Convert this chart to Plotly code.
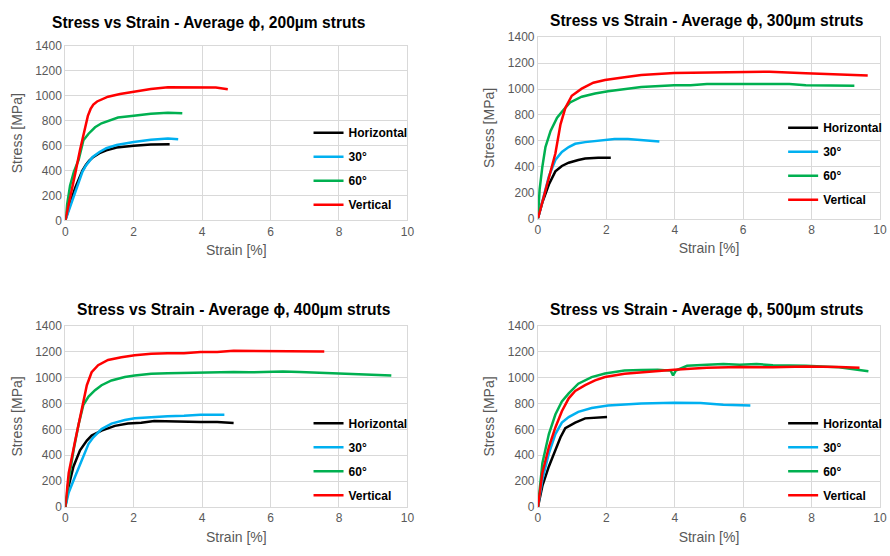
import plotly.graph_objects as go

# ---------------- data ----------------
series_names = ["Horizontal", "30°", "60°", "Vertical"]
series_colors = ["#000000", "#00B0F0", "#00B050", "#FF0000"]
panel_titles = [
    "Stress vs Strain - Average ϕ, 200µm struts",
    "Stress vs Strain - Average ϕ, 300µm struts",
    "Stress vs Strain - Average ϕ, 400µm struts",
    "Stress vs Strain - Average ϕ, 500µm struts",
]
x_ticks = [0, 2, 4, 6, 8, 10]
y_ticks = [0, 200, 400, 600, 800, 1000, 1200, 1400]

# 200 µm
s200_h_x = [0, 0.1, 0.2, 0.3, 0.4, 0.5, 0.6, 0.7, 0.8, 1.0, 1.2, 1.5, 2.0, 2.5, 3.05]
s200_h_y = [0, 100, 190, 270, 340, 400, 445, 480, 505, 540, 563, 585, 600, 610, 612]
s200_30_x = [0, 0.1, 0.2, 0.3, 0.4, 0.5, 0.6, 0.7, 0.8, 1.0, 1.2, 1.5, 2.0, 2.5, 3.0, 3.3]
s200_30_y = [0, 80, 160, 240, 320, 390, 440, 480, 510, 550, 580, 605, 630, 648, 658, 652]
s200_60_x = [0, 0.05, 0.14, 0.25, 0.39, 0.53, 0.68, 0.87, 1.06, 1.3, 1.54, 2.0, 2.5, 3.0, 3.42]
s200_60_y = [0, 122, 280, 390, 487, 644, 696, 748, 780, 806, 826, 840, 857, 865, 860]
s200_v_x = [0, 0.1, 0.2, 0.3, 0.43, 0.55, 0.66, 0.74, 0.82, 0.93, 1.06, 1.25, 1.6, 2.0, 2.5, 3.0, 3.95, 4.4, 4.75]
s200_v_y = [0, 125, 260, 390, 566, 720, 839, 895, 930, 955, 972, 993, 1015, 1035, 1055, 1069, 1071, 1066, 1053]

# 300 µm
s300_h_x = [0, 0.13, 0.32, 0.51, 0.7, 0.9, 1.18, 1.38, 1.76, 2.13]
s300_h_y = [0, 125, 263, 364, 406, 431, 452, 464, 469, 469]
s300_30_x = [0, 0.13, 0.32, 0.51, 0.7, 0.9, 1.09, 1.38, 1.86, 2.24, 2.63, 3.02, 3.55]
s300_30_y = [0, 125, 326, 452, 514, 552, 577, 590, 607, 615, 615, 607, 595]
s300_60_x = [0, 0.05, 0.13, 0.22, 0.37, 0.56, 0.75, 0.94, 1.28, 1.67, 2.05, 2.53, 3.02, 3.98,
             4.46, 4.94, 5.42, 5.9, 6.87, 7.35, 7.83, 8.8, 9.25]
s300_60_y = [0, 226, 401, 552, 677, 778, 840, 896, 941, 966, 983, 998, 1016, 1029,
             1029, 1039, 1039, 1034, 1039, 1039, 1029, 1029, 1026]
s300_v_x = [0, 0.22, 0.51, 0.66, 0.8, 0.99, 1.28, 1.62, 1.96, 2.53, 3.02, 3.98, 4.94, 5.9,
            6.77, 7.83, 8.8, 9.18, 9.64]
s300_v_y = [0, 226, 502, 727, 853, 948, 1003, 1049, 1069, 1091, 1109, 1124, 1129, 1129,
            1134, 1121, 1111, 1104, 1104]

# 400 µm
s400_h_x = [0, 0.1, 0.24, 0.43, 0.63, 0.77, 1.06, 1.45, 1.83, 2.22, 2.6, 3.18, 3.95, 4.44, 4.92]
s400_h_y = [0, 163, 314, 439, 514, 552, 590, 627, 645, 652, 665, 660, 657, 657, 650]
s400_30_x = [0, 0.1, 0.29, 0.48, 0.68, 0.82, 1.06, 1.35, 1.74, 2.03, 2.51, 2.99, 3.47, 3.95, 4.65]
s400_30_y = [0, 113, 238, 364, 489, 539, 602, 645, 672, 685, 695, 702, 705, 712, 712]
s400_60_x = [0, 0.1, 0.25, 0.39, 0.53, 0.68, 0.87, 1.06, 1.35, 1.74, 2.03, 2.51, 2.99, 3.95,
             4.92, 5.4, 5.88, 6.36, 6.85, 7.81, 8.78, 9.53]
s400_60_y = [0, 213, 450, 640, 790, 853, 903, 941, 978, 1004, 1016, 1029, 1034, 1041,
             1044, 1041, 1046, 1046, 1044, 1036, 1026, 1016]
s400_v_x = [0, 0.1, 0.29, 0.48, 0.63, 0.77, 0.96, 1.25, 1.64, 2.03, 2.51, 2.99, 3.47, 3.95,
            4.44, 4.92, 5.4, 5.88, 6.36, 6.85, 7.57]
s400_v_y = [0, 263, 514, 765, 941, 1041, 1096, 1136, 1157, 1172, 1184, 1187, 1187, 1197,
            1197, 1207, 1207, 1202, 1202, 1207, 1202]

# 500 µm
s500_h_x = [0, 0.13, 0.32, 0.51, 0.66, 0.8, 1.09, 1.38, 1.67, 2.02]
s500_h_y = [0, 163, 314, 439, 539, 610, 652, 685, 690, 695]
s500_30_x = [0, 0.13, 0.32, 0.51, 0.7, 0.9, 1.18, 1.57, 2.05, 2.53, 3.02, 3.98, 4.75, 5.42, 6.21]
s500_30_y = [0, 213, 414, 564, 652, 695, 735, 765, 785, 795, 800, 805, 803, 790, 785]
s500_60_x = [0, 0.13, 0.32, 0.51, 0.7, 0.9, 1.18, 1.57, 1.96, 2.53, 3.02, 3.5, 3.88, 3.95,
             4.03, 4.36, 4.94, 5.42, 5.9, 6.39, 6.87, 7.83, 8.8, 9.66]
s500_60_y = [0, 339, 564, 715, 815, 878, 953, 1004, 1031, 1054, 1059, 1061, 1054, 1016,
             1054, 1091, 1099, 1104, 1099, 1104, 1096, 1091, 1079, 1049]
s500_v_x = [0, 0.13, 0.32, 0.51, 0.7, 0.9, 1.09, 1.38, 1.67, 1.96, 2.53, 3.02, 3.98, 4.94,
            5.9, 6.87, 7.83, 8.8, 9.4]
s500_v_y = [0, 263, 464, 615, 740, 840, 896, 941, 978, 1004, 1029, 1041, 1061, 1076,
            1081, 1079, 1086, 1081, 1076]

panels = [
    [(s200_h_x, s200_h_y), (s200_30_x, s200_30_y), (s200_60_x, s200_60_y), (s200_v_x, s200_v_y)],
    [(s300_h_x, s300_h_y), (s300_30_x, s300_30_y), (s300_60_x, s300_60_y), (s300_v_x, s300_v_y)],
    [(s400_h_x, s400_h_y), (s400_30_x, s400_30_y), (s400_60_x, s400_60_y), (s400_v_x, s400_v_y)],
    [(s500_h_x, s500_h_y), (s500_30_x, s500_30_y), (s500_60_x, s500_60_y), (s500_v_x, s500_v_y)],
]

# ---------------- layout ----------------
W, H = 890, 556
FONT = "Arial, Liberation Sans, sans-serif"
# pixel boxes: (left, right, top, bottom)
boxes = [(63, 409, 40, 219), (541, 887, 31, 217), (63, 409, 327, 513), (541, 887, 327, 513)]
title_pos = [(208, 16), (712, 14), (234, 310), (712, 310)]
legend_pos = [(309, 114), (789, 109), (309, 412), (789, 412)]

fig = go.Figure()
layout = dict(
    width=W, height=H, margin=dict(l=0, r=0, t=0, b=0),
    paper_bgcolor="white", plot_bgcolor="white", showlegend=True,
    font=dict(family=FONT, color="#595959"),
    annotations=[],
)

for i, data in enumerate(panels):
    k = "" if i == 0 else str(i + 1)
    leg = "legend" if i == 0 else "legend" + str(i + 1)
    for j, (xs, ys) in enumerate(data):
        fig.add_trace(go.Scatter(
            x=xs, y=ys, mode="lines", name=series_names[j],
            line=dict(color=series_colors[j], width=2.5),
            xaxis="x" + k, yaxis="y" + k, legend=leg,
            legendgroup=f"p{i}s{j}", hoverinfo="skip",
        ))
    l, r, t, b = boxes[i]
    ax = dict(
        domain=[l / W, r / W], range=[0, 10], tickvals=x_ticks,
        showgrid=True, gridcolor="#d9d9d9", gridwidth=1,
        showline=True, linecolor="#d9d9d9", linewidth=1, mirror=True,
        zeroline=False, ticks="", tickfont=dict(size=12, color="#595959"),
        title=dict(text="Strain [%]", font=dict(size=14, color="#595959"), standoff=7),
        anchor="y" + k,
    )
    ay = dict(
        domain=[1 - b / H, 1 - t / H], range=[0, 1400], tickvals=y_ticks,
        showgrid=True, gridcolor="#d9d9d9", gridwidth=1,
        showline=True, linecolor="#d9d9d9", linewidth=1, mirror=True,
        zeroline=False, ticks="", tickfont=dict(size=12, color="#595959"),
        title=dict(text="Stress [MPa]", font=dict(size=14, color="#595959"), standoff=9),
        anchor="x" + k,
    )
    layout["xaxis" + k] = ax
    layout["yaxis" + k] = ay
    lx, ly = legend_pos[i]
    layout[leg] = dict(
        x=lx / W, y=1 - ly / H, xanchor="left", yanchor="top",
        bgcolor="rgba(0,0,0,0)", borderwidth=0, traceorder="grouped",
        tracegroupgap=5, itemwidth=30,
        font=dict(family=FONT, size=12, color="#000000", weight="bold"),
    )
    tx, ty = title_pos[i]
    layout["annotations"].append(dict(
        text="<b>" + panel_titles[i] + "</b>", x=tx / W, y=1 - ty / H,
        xref="paper", yref="paper", xanchor="center", yanchor="middle",
        showarrow=False, font=dict(family=FONT, size=15.6, color="#000000"),
    ))

fig.update_layout(**layout)
fig.write_html("out.html")
